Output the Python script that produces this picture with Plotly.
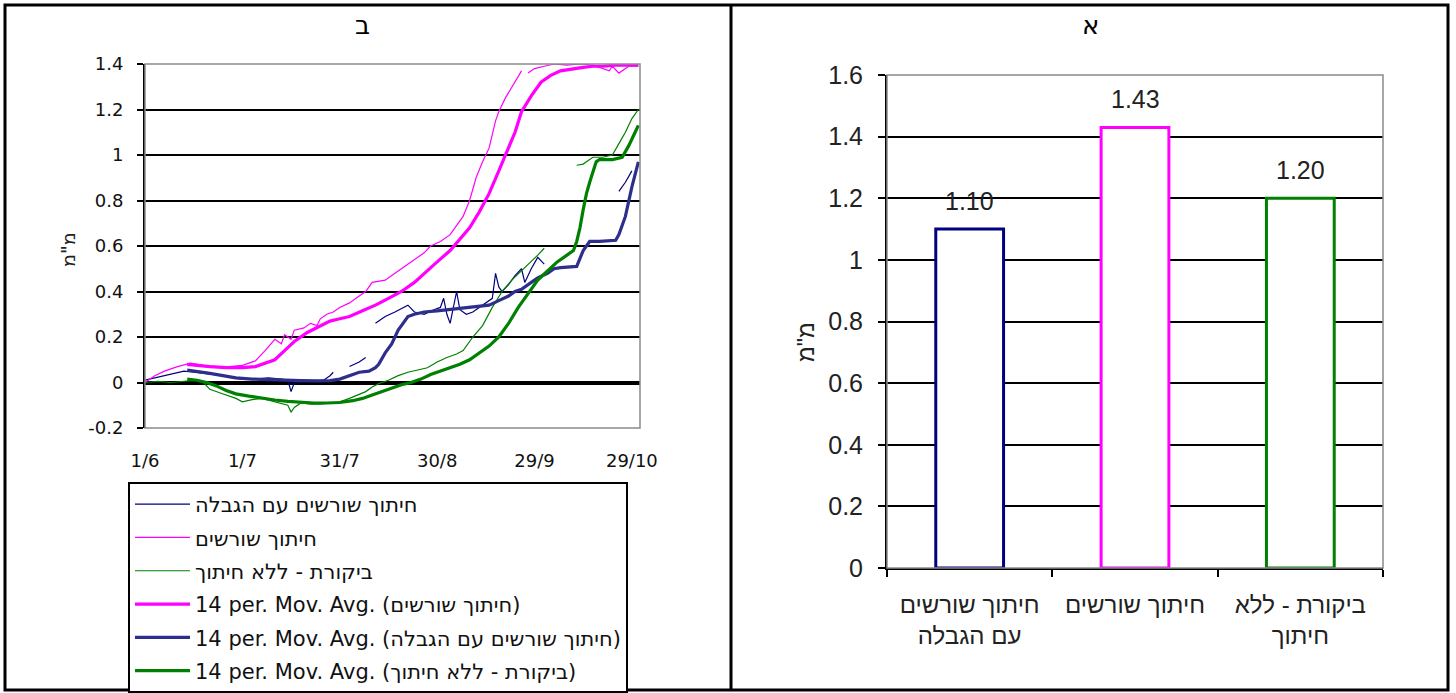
import plotly.graph_objects as go

W, H = 1456, 693

# ---------------- panel ב : daily series (day 0 = 1/6) ----------------
x_tick_days = [0, 30, 60, 90, 120, 150]
x_tick_labels = ["1/6", "1/7", "31/7", "30/8", "29/9", "29/10"]
y_left_ticks = [-0.2, 0, 0.2, 0.4, 0.6, 0.8, 1.0, 1.2, 1.4]
y_left_labels = ["-0.2", "0", "0.2", "0.4", "0.6", "0.8", "1", "1.2", "1.4"]

# root pruning with restriction (raw)
restr_days = [0, 3, 6, 9, 12, 15, 18, 21, 24, 27, 30, 34, 38, 42, 44, 45, 46, 49, 52, 55, 57, 58, 59,
              63, 66, 68, 69, 71, 74, 77, 80, 81, 83, 86, 89, 91, 92, 93, 94, 95, 96, 97, 99, 101,
              104, 107, 108, 109, 110, 112, 114, 116, 117, 119, 121, 123, 124, 146, 148, 150]
restr_vals = [0.01, 0.02, 0.03, 0.04, 0.05, 0.045, 0.04, 0.035, 0.03, 0.02, 0.015, 0.015, 0.02, 0.015,
              0.01, -0.04, 0.0, 0.005, 0.005, 0.01, 0.03, 0.045, None,
              0.07, 0.09, 0.11, None, 0.26, 0.29, 0.31, 0.33, 0.34, 0.31, 0.30, 0.32, 0.33, 0.37,
              0.30, 0.26, 0.33, 0.40, 0.32, 0.30, 0.31, 0.34, 0.37, 0.48, 0.42, 0.40, 0.43, 0.47,
              0.50, 0.44, 0.50, 0.55, 0.52, None, 0.84, 0.88, 0.93]

# root pruning (raw)
prune_days = [0, 3, 6, 10, 14, 18, 22, 26, 30, 34, 37, 40, 42, 43, 45, 46, 49, 51, 53, 54, 56, 58,
              60, 63, 65, 68, 70, 74, 77, 80, 83, 86, 88, 91, 94, 96, 98, 100, 102, 104, 106, 108,
              109, 111, 113, 116, 117, 118, 120, 123, 126, 130, 134, 138, 141, 143, 144, 146, 149, 152]
prune_vals = [0.0, 0.03, 0.05, 0.07, 0.085, 0.075, 0.07, 0.07, 0.075, 0.095, 0.14, 0.19, 0.17, 0.21,
              0.19, 0.23, 0.24, 0.26, 0.25, 0.28, 0.30, 0.31, 0.33, 0.35, 0.37, 0.40, 0.44, 0.45,
              0.48, 0.51, 0.54, 0.57, 0.60, 0.62, 0.65, 0.69, 0.73, 0.80, 0.90, 0.97, 1.03, 1.15,
              1.19, 1.25, 1.30, 1.37, None, 1.36, 1.38, 1.39, 1.40, 1.395, 1.40, 1.395, 1.38, 1.37,
              1.39, 1.36, 1.39, 1.39]

# control - no pruning (raw)
ctrl_days = [0, 4, 8, 12, 16, 18, 20, 23, 26, 28, 30, 33, 36, 39, 42, 44, 45, 46, 48, 51, 54, 57, 60,
             63, 66, 68, 70, 72, 75, 78, 81, 84, 87, 90, 93, 96, 98, 101, 104, 107, 110, 113, 116,
             119, 121, 123, 124, 133, 135, 136, 138, 141, 144, 146, 148, 150, 152]
ctrl_vals = [0.0, 0.005, 0.0, 0.005, 0.01, 0.0, -0.03, -0.045, -0.06, -0.07, -0.085, -0.075, -0.07,
             -0.08, -0.09, -0.10, -0.13, -0.11, -0.09, -0.095, -0.095, -0.09, -0.085, -0.07, -0.05,
             -0.04, -0.02, -0.005, 0.01, 0.03, 0.045, 0.055, 0.065, 0.09, 0.11, 0.125, 0.14, 0.20,
             0.25, 0.33, 0.40, 0.45, 0.49, 0.53, 0.56, 0.59, None, 0.955, 0.96, 0.97, 0.99, 0.99,
             1.0, 1.05, 1.10, 1.16, 1.20]

# 14-period moving averages
prune_ma_days = [13, 16, 20, 25, 30, 34, 37, 40, 43, 46, 50, 53, 57, 60, 63, 67, 71, 75, 79, 83, 86,
                 90, 94, 97, 100, 103, 106, 109, 111, 114, 116, 119, 122, 125, 128, 132, 135, 138,
                 141, 145, 148, 152]
prune_ma_vals = [0.08, 0.075, 0.07, 0.065, 0.065, 0.07, 0.085, 0.10, 0.14, 0.18, 0.22, 0.24, 0.27,
                 0.28, 0.29, 0.315, 0.34, 0.37, 0.40, 0.44, 0.48, 0.53, 0.58, 0.63, 0.68, 0.75,
                 0.83, 0.93, 1.0, 1.10, 1.19, 1.26, 1.32, 1.35, 1.37, 1.38, 1.385, 1.39, 1.39,
                 1.395, 1.395, 1.395]

restr_ma_days = [13, 16, 20, 24, 28, 33, 38, 43, 48, 53, 57, 60, 62, 64, 66, 69, 71, 72, 74, 76, 78,
                 79, 81, 83, 86, 90, 93, 97, 100, 103, 106, 109, 112, 114, 116, 119, 121, 124, 126,
                 128, 131, 133, 135, 137, 140, 145, 146, 148, 150, 152]
restr_ma_vals = [0.055, 0.05, 0.04, 0.03, 0.02, 0.015, 0.012, 0.01, 0.008, 0.007, 0.008, 0.015,
                 0.025, 0.037, 0.045, 0.05, 0.065, 0.08, 0.13, 0.17, 0.23, 0.25, 0.29, 0.30, 0.31,
                 0.315, 0.32, 0.325, 0.33, 0.335, 0.34, 0.36, 0.38, 0.40, 0.41, 0.44, 0.46, 0.48,
                 0.50, 0.505, 0.51, 0.51, 0.58, 0.62, 0.62, 0.625, 0.65, 0.73, 0.86, 0.97]

ctrl_ma_days = [13, 16, 19, 22, 25, 28, 32, 36, 40, 44, 48, 52, 56, 60, 64, 67, 70, 73, 76, 79, 82,
                85, 88, 91, 94, 97, 100, 103, 106, 109, 112, 115, 118, 121, 124, 127, 130, 132, 133,
                134, 135, 136, 137, 138, 139, 140, 144, 147, 149, 151, 152]
ctrl_ma_vals = [0.015, 0.01, 0.0, -0.015, -0.035, -0.05, -0.06, -0.07, -0.077, -0.083, -0.087,
                -0.09, -0.09, -0.088, -0.08, -0.07, -0.055, -0.04, -0.025, -0.01, 0.0, 0.015,
                0.035, 0.05, 0.065, 0.08, 0.10, 0.13, 0.16, 0.20, 0.26, 0.33, 0.39, 0.45, 0.49,
                0.53, 0.56, 0.58, 0.62, 0.68, 0.76, 0.83, 0.88, 0.93, 0.97, 0.98, 0.98, 0.99,
                1.04, 1.10, 1.13]

# ---------------- panel א : final values ----------------
bar_categories = ["חיתוך שורשים<br>עם הגבלה", "חיתוך שורשים", "ביקורת - ללא<br>חיתוך"]
bar_values = [1.10, 1.43, 1.20]
bar_colors = ["#000080", "#FF00FF", "#008000"]
y_right_ticks = [0, 0.2, 0.4, 0.6, 0.8, 1.0, 1.2, 1.4, 1.6]
y_right_labels = ["0", "0.2", "0.4", "0.6", "0.8", "1", "1.2", "1.4", "1.6"]

name_restr = "חיתוך שורשים עם הגבלה"
name_prune = "חיתוך שורשים"
name_ctrl = "ביקורת - ללא חיתוך"
ma_prefix = "14 per. Mov. Avg. "

NAVY, MAGENTA, GREEN = "#000080", "#FF00FF", "#008000"
NAVY_MA = "#2E2E8C"

SANS = "Liberation Sans, Arial, sans-serif"
WIDE = "DejaVu Sans, sans-serif"

fig = go.Figure()

series = [
    (restr_days, restr_vals, name_restr, NAVY, 1.2),
    (prune_days, prune_vals, name_prune, MAGENTA, 1.2),
    (ctrl_days, ctrl_vals, name_ctrl, GREEN, 1.2),
    (prune_ma_days, prune_ma_vals, ma_prefix + "(" + name_prune + ")", MAGENTA, 3.2),
    (restr_ma_days, restr_ma_vals, ma_prefix + "(" + name_restr + ")", NAVY_MA, 3.2),
    (ctrl_ma_days, ctrl_ma_vals, ma_prefix + "(" + name_ctrl + ")", GREEN, 3.2),
]
for i, (xs, ys, nm, col, lw) in enumerate(series):
    fig.add_trace(go.Scatter(
        x=xs, y=ys, name=nm, mode="lines", connectgaps=False,
        line=dict(color=col, width=lw), legendgroup=f"g{i}",
        xaxis="x", yaxis="y", hoverinfo="skip",
    ))

fig.add_trace(go.Bar(
    x=bar_categories, y=bar_values, width=0.41,
    marker=dict(color="white", line=dict(color=bar_colors, width=3)),
    xaxis="x2", yaxis="y2", showlegend=False, hoverinfo="skip",
))

annotations = []
for cat, val in zip(bar_categories, bar_values):
    annotations.append(dict(
        x=cat, y=val, xref="x2", yref="y2", text=f"{val:.2f}", showarrow=False,
        yanchor="bottom", yshift=12, font=dict(family=SANS, size=25, color="#222"),
    ))

# panel titles and axis titles
annotations += [
    dict(x=362 / W, y=1 - 25 / H, xref="paper", yref="paper", text="ב", showarrow=False,
         xanchor="center", yanchor="middle", font=dict(family=WIDE, size=26, color="black")),
    dict(x=1090 / W, y=1 - 25 / H, xref="paper", yref="paper", text="א", showarrow=False,
         xanchor="center", yanchor="middle", font=dict(family=WIDE, size=26, color="black")),
    dict(x=68 / W, y=1 - 250 / H, xref="paper", yref="paper", text='מ"מ', showarrow=False,
         textangle=-90, xanchor="center", yanchor="middle",
         font=dict(family=WIDE, size=19, color="#222")),
    dict(x=806 / W, y=1 - 342 / H, xref="paper", yref="paper", text='מ"מ', showarrow=False,
         textangle=-90, xanchor="center", yanchor="middle",
         font=dict(family=SANS, size=23, color="#222")),
]

shapes = [
    # plot-area borders
    dict(type="rect", xref="x domain", yref="y domain", x0=0, x1=1, y0=0, y1=1,
         line=dict(color="#8a8a8a", width=1.5), layer="above"),
    dict(type="rect", xref="x2 domain", yref="y2 domain", x0=0, x1=1, y0=0, y1=1,
         line=dict(color="#8a8a8a", width=1.5), layer="above"),
    # table frame
    dict(type="rect", xref="paper", yref="paper", x0=5 / W, x1=1448 / W, y0=1 - 690 / H,
         y1=1 - 5 / H, line=dict(color="black", width=3), layer="above"),
    dict(type="line", xref="paper", yref="paper", x0=731 / W, x1=731 / W, y0=1 - 690 / H,
         y1=1 - 5 / H, line=dict(color="black", width=3), layer="above"),
]

fig.update_layout(
    width=W, height=H, margin=dict(l=0, r=0, t=0, b=0, autoexpand=False),
    paper_bgcolor="white", plot_bgcolor="white",
    showlegend=True,
    legend=dict(
        x=128 / W, y=1 - 482 / H, xanchor="left", yanchor="top",
        bordercolor="black", borderwidth=2, bgcolor="white",
        font=dict(family=WIDE, size=21, color="#111"),
        traceorder="grouped", tracegroupgap=3, itemwidth=55,
    ),
    xaxis=dict(
        domain=[145 / W, 640 / W], range=[0, 152.5], automargin=False,
        tickvals=x_tick_days, ticktext=x_tick_labels,
        showgrid=False, zeroline=False, showline=False, ticks="",
        ticklabelstandoff=20, tickfont=dict(family=WIDE, size=18, color="#111"),
    ),
    yaxis=dict(
        domain=[1 - 428 / H, 1 - 64 / H], range=[-0.2, 1.4], automargin=False,
        tickvals=y_left_ticks, ticktext=y_left_labels,
        showgrid=True, gridcolor="black", gridwidth=1.5,
        zeroline=True, zerolinecolor="black", zerolinewidth=4,
        showline=True, linecolor="black", linewidth=2,
        ticks="outside", ticklen=6, tickcolor="black", tickwidth=1.5,
        ticklabelstandoff=10, tickfont=dict(family=WIDE, size=18, color="#111"),
    ),
    xaxis2=dict(
        domain=[887 / W, 1383 / W], type="category", range=[-0.5, 2.5], automargin=False,
        tickson="boundaries", ticks="outside", ticklen=7, tickcolor="black", tickwidth=1.5,
        showline=True, linecolor="black", linewidth=2, showgrid=False,
        tickfont=dict(family=SANS, size=24, color="#222"), anchor="y2",
        ticklabelstandoff=14,
    ),
    yaxis2=dict(
        domain=[1 - 568 / H, 1 - 75 / H], range=[0, 1.6], automargin=False,
        tickvals=y_right_ticks, ticktext=y_right_labels,
        showgrid=True, gridcolor="black", gridwidth=1.5, zeroline=False,
        showline=True, linecolor="black", linewidth=2,
        ticks="outside", ticklen=7, tickcolor="black", tickwidth=1.5,
        ticklabelstandoff=10, tickfont=dict(family=SANS, size=25, color="#222"),
        anchor="x2",
    ),
    annotations=annotations, shapes=shapes,
)

fig.write_html("out.html")
